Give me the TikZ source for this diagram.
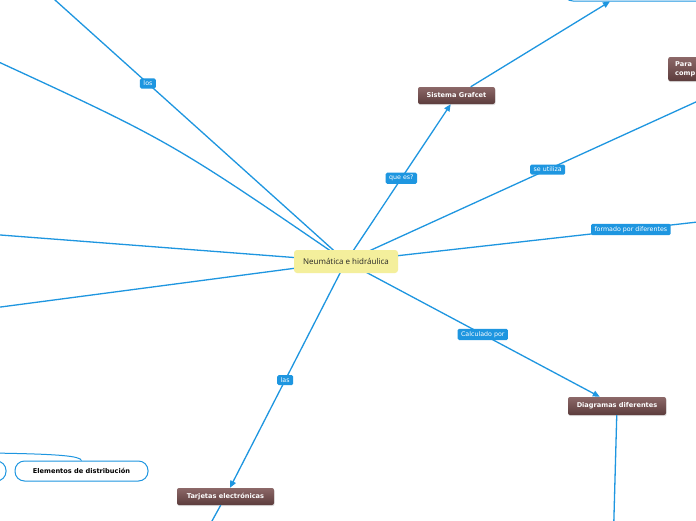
\documentclass[tikz,border=0pt]{standalone}
\usepackage{fontspec}
\setmainfont{DejaVu Sans}
\newfontfamily\centerfont{Open Sans}
\usetikzlibrary{arrows.meta,shadows,backgrounds}
\definecolor{lineblue}{HTML}{1E96E0}
\definecolor{browntop}{HTML}{8C6868}
\definecolor{brownbot}{HTML}{5C3C3C}
\definecolor{centeryellow}{HTML}{F4EF9C}
\tikzset{
  conn/.style={draw=lineblue, line width=1.3pt},
  arr/.style={conn, -{Triangle[length=7pt,width=6pt]}},
  lbl/.style={fill=lineblue, text=white, rounded corners=1.5pt,
    font=\fontsize{6.3}{7}\selectfont, inner xsep=3.5pt, inner ysep=2.6pt},
  topic/.style={rounded corners=2pt, top color=browntop, bottom color=brownbot,
    text=white, font=\bfseries\fontsize{6.6}{7.5}\selectfont,
    inner xsep=7pt, inner ysep=2pt,
    drop shadow={opacity=0.25, shadow xshift=0.5pt, shadow yshift=-1.2pt}},
  pill/.style={draw=lineblue, line width=1pt, fill=white, rounded corners=9.5pt,
    minimum height=20pt, text=black, font=\bfseries\fontsize{6.6}{7}\selectfont},
}
\begin{document}
\begin{tikzpicture}[x=1pt,y=-1pt]
\useasboundingbox (0,0) rectangle (696,520);

% nodes
\node[fill=centeryellow, rounded corners=3pt, minimum width=104pt, minimum height=23pt,
  text=black!85, font=\centerfont\fontsize{8}{9}\selectfont] (c) at (346,261.5) {Neumática e hidráulica};
\node[topic, minimum width=77pt, minimum height=17pt] (gr) at (456.5,95.5) {Sistema Grafcet};
\node[topic, minimum width=98pt, minimum height=18pt] (dg) at (617,406) {Diagramas diferentes};
\node[topic, minimum width=97pt, minimum height=17pt] (tj) at (225.5,496.5) {Tarjetas electrónicas};
\node[topic, anchor=west, minimum width=200pt, minimum height=24pt, text width=186pt,
  align=left, font=\bfseries\fontsize{6.6}{9}\selectfont] (pa) at (668,69) {Para\\comp};
\node[draw=lineblue, line width=1pt, fill=white, rounded corners=10pt,
  minimum width=164pt, minimum height=42pt] (tr) at (645,-20) {};
\node[pill, minimum width=133pt] (el) at (81.5,471) {Elementos de distribución};
\node[pill, minimum width=92pt] (lp) at (-40,471) {};

% free ends
\coordinate (l1) at (45,-9);
\coordinate (l2) at (-10,58);
\coordinate (l3) at (-10,234.2);
\coordinate (l4) at (-10,308.4);
\coordinate (fd) at (760,215);
\coordinate (db) at (613.6,530);
\coordinate (tb) at (207,530);
\coordinate (lc) at (-10,453);

\begin{scope}[on background layer]
\fill[white] (0,0) rectangle (696,520);
\draw[conn] (c.center) -- (l1) node[lbl, pos=0.658] {los};
\draw[conn] (l2) .. controls (170,141) .. (c.center);
\draw[conn] (c.center) -- (l3);
\draw[conn] (c.center) -- (l4);
\draw[arr] (c.center) -- (gr) node[lbl, pos=0.529] {que es?};
\draw[arr] (c.center) -- (pa) node[lbl, pos=0.51] {se utiliza};
\draw[conn] (c.center) -- (fd) node[lbl, pos=0.688] {formado por diferentes};
\draw[arr] (c.center) -- (dg) node[lbl, pos=0.539] {Calculado por};
\draw[arr] (c.center) -- (tj) node[lbl, pos=0.524] {las};
\end{scope}
\draw[arr] (gr) -- (tr);
\draw[conn] (dg) -- (db);
\draw[conn] (tj) -- (tb);
\draw[conn, line width=1pt] (el.north) .. controls (80,456) and (60,454) .. (lc);
\end{tikzpicture}
\end{document}
